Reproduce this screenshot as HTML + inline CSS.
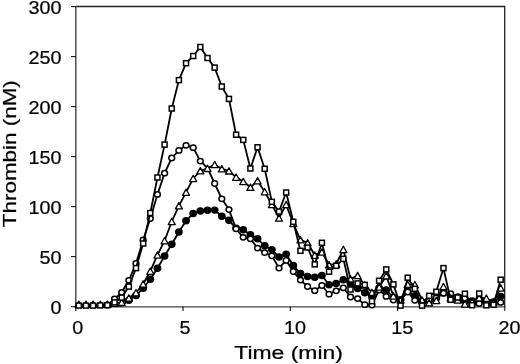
<!DOCTYPE html>
<html><head><meta charset="utf-8"><style>html,body{margin:0;padding:0;background:#fff;width:520px;height:364px;overflow:hidden}svg{display:block;filter:grayscale(1)}</style></head>
<body>
<svg width="520" height="364" viewBox="0 0 520 364">
<rect width="520" height="364" fill="#fff"/>
<path d="M75.8,6.5H504.7V306.9" fill="none" stroke="#222" stroke-width="1.3" stroke-linejoin="miter"/>
<line x1="75.8" y1="6" x2="75.8" y2="307.5" stroke="#444" stroke-width="1.4"/>
<line x1="75.2" y1="306.9" x2="505.3" y2="306.9" stroke="#444" stroke-width="1.4"/>
<line x1="71" y1="6.6" x2="76" y2="6.6" stroke="#111" stroke-width="1.1"/>
<line x1="71" y1="56.6" x2="76" y2="56.6" stroke="#111" stroke-width="1.1"/>
<line x1="71" y1="106.6" x2="76" y2="106.6" stroke="#111" stroke-width="1.1"/>
<line x1="71" y1="156.6" x2="76" y2="156.6" stroke="#111" stroke-width="1.1"/>
<line x1="71" y1="206.6" x2="76" y2="206.6" stroke="#111" stroke-width="1.1"/>
<line x1="71" y1="256.6" x2="76" y2="256.6" stroke="#111" stroke-width="1.1"/>
<line x1="71" y1="306.7" x2="76" y2="306.7" stroke="#111" stroke-width="1.1"/>
<line x1="75.8" y1="306.5" x2="75.8" y2="311" stroke="#111" stroke-width="1.1"/>
<line x1="183.05" y1="306.5" x2="183.05" y2="311" stroke="#111" stroke-width="1.1"/>
<line x1="290.3" y1="306.5" x2="290.3" y2="311" stroke="#111" stroke-width="1.1"/>
<line x1="397.55" y1="306.5" x2="397.55" y2="311" stroke="#111" stroke-width="1.1"/>
<line x1="504.8" y1="306.5" x2="504.8" y2="311" stroke="#111" stroke-width="1.1"/>
<polyline points="78.80,305.60 85.95,305.60 93.10,305.60 100.25,305.60 107.40,305.60 114.55,305.60 121.70,305.60 128.85,300.30 136.00,295.50 143.15,288.30 150.30,279.30 157.45,268.20 164.60,256.00 171.75,244.20 178.90,232.00 186.05,220.80 193.20,213.50 200.35,211.00 207.50,210.20 214.65,210.10 221.80,216.20 228.95,220.30 236.10,228.30 243.25,229.70 250.40,234.70 257.55,238.80 264.70,245.80 271.85,249.60 279.00,257.00 286.15,254.20 293.30,265.40 300.45,273.50 307.60,276.50 314.75,277.30 321.90,275.50 329.05,284.70 336.20,283.50 343.35,279.80 350.50,284.00 357.65,288.50 364.80,292.70 371.95,296.80 379.10,288.00 386.25,290.00 393.40,297.50 400.55,299.60 407.70,291.30 414.85,295.80 422.00,302.60 429.15,300.00 436.30,298.00 443.45,293.00 450.60,296.00 457.75,297.00 464.90,300.00 472.05,301.00 479.20,300.00 486.35,302.00 493.50,302.00 500.65,296.50" fill="none" stroke="#000" stroke-width="1.8" stroke-linejoin="round"/>
<g fill="#000" stroke="none"><ellipse cx="128.85" cy="300.30" rx="3.9" ry="3.7"/>
<ellipse cx="136.00" cy="295.50" rx="3.9" ry="3.7"/>
<ellipse cx="143.15" cy="288.30" rx="3.9" ry="3.7"/>
<ellipse cx="150.30" cy="279.30" rx="3.9" ry="3.7"/>
<ellipse cx="157.45" cy="268.20" rx="3.9" ry="3.7"/>
<ellipse cx="164.60" cy="256.00" rx="3.9" ry="3.7"/>
<ellipse cx="171.75" cy="244.20" rx="3.9" ry="3.7"/>
<ellipse cx="178.90" cy="232.00" rx="3.9" ry="3.7"/>
<ellipse cx="186.05" cy="220.80" rx="3.9" ry="3.7"/>
<ellipse cx="193.20" cy="213.50" rx="3.9" ry="3.7"/>
<ellipse cx="200.35" cy="211.00" rx="3.9" ry="3.7"/>
<ellipse cx="207.50" cy="210.20" rx="3.9" ry="3.7"/>
<ellipse cx="214.65" cy="210.10" rx="3.9" ry="3.7"/>
<ellipse cx="221.80" cy="216.20" rx="3.9" ry="3.7"/>
<ellipse cx="228.95" cy="220.30" rx="3.9" ry="3.7"/>
<ellipse cx="236.10" cy="228.30" rx="3.9" ry="3.7"/>
<ellipse cx="243.25" cy="229.70" rx="3.9" ry="3.7"/>
<ellipse cx="250.40" cy="234.70" rx="3.9" ry="3.7"/>
<ellipse cx="257.55" cy="238.80" rx="3.9" ry="3.7"/>
<ellipse cx="264.70" cy="245.80" rx="3.9" ry="3.7"/>
<ellipse cx="271.85" cy="249.60" rx="3.9" ry="3.7"/>
<ellipse cx="279.00" cy="257.00" rx="3.9" ry="3.7"/>
<ellipse cx="286.15" cy="254.20" rx="3.9" ry="3.7"/>
<ellipse cx="293.30" cy="265.40" rx="3.9" ry="3.7"/>
<ellipse cx="300.45" cy="273.50" rx="3.9" ry="3.7"/>
<ellipse cx="307.60" cy="276.50" rx="3.9" ry="3.7"/>
<ellipse cx="314.75" cy="277.30" rx="3.9" ry="3.7"/>
<ellipse cx="321.90" cy="275.50" rx="3.9" ry="3.7"/>
<ellipse cx="329.05" cy="284.70" rx="3.9" ry="3.7"/>
<ellipse cx="336.20" cy="283.50" rx="3.9" ry="3.7"/>
<ellipse cx="343.35" cy="279.80" rx="3.9" ry="3.7"/>
<ellipse cx="350.50" cy="284.00" rx="3.9" ry="3.7"/>
<ellipse cx="357.65" cy="288.50" rx="3.9" ry="3.7"/>
<ellipse cx="364.80" cy="292.70" rx="3.9" ry="3.7"/>
<ellipse cx="371.95" cy="296.80" rx="3.9" ry="3.7"/>
<ellipse cx="379.10" cy="288.00" rx="3.9" ry="3.7"/>
<ellipse cx="386.25" cy="290.00" rx="3.9" ry="3.7"/>
<ellipse cx="393.40" cy="297.50" rx="3.9" ry="3.7"/>
<ellipse cx="400.55" cy="299.60" rx="3.9" ry="3.7"/>
<ellipse cx="407.70" cy="291.30" rx="3.9" ry="3.7"/>
<ellipse cx="414.85" cy="295.80" rx="3.9" ry="3.7"/>
<ellipse cx="422.00" cy="302.60" rx="3.9" ry="3.7"/>
<ellipse cx="429.15" cy="300.00" rx="3.9" ry="3.7"/>
<ellipse cx="436.30" cy="298.00" rx="3.9" ry="3.7"/>
<ellipse cx="443.45" cy="293.00" rx="3.9" ry="3.7"/>
<ellipse cx="450.60" cy="296.00" rx="3.9" ry="3.7"/>
<ellipse cx="457.75" cy="297.00" rx="3.9" ry="3.7"/>
<ellipse cx="464.90" cy="300.00" rx="3.9" ry="3.7"/>
<ellipse cx="472.05" cy="301.00" rx="3.9" ry="3.7"/>
<ellipse cx="479.20" cy="300.00" rx="3.9" ry="3.7"/>
<ellipse cx="486.35" cy="302.00" rx="3.9" ry="3.7"/>
<ellipse cx="493.50" cy="302.00" rx="3.9" ry="3.7"/>
<ellipse cx="500.65" cy="296.50" rx="3.9" ry="3.7"/></g>
<polyline points="78.80,305.60 85.95,305.60 93.10,305.60 100.25,305.60 107.40,305.00 114.55,299.00 121.70,292.30 128.85,280.30 136.00,263.50 143.15,240.00 150.30,218.50 157.45,194.40 164.60,173.20 171.75,158.00 178.90,150.40 186.05,145.30 193.20,147.70 200.35,161.10 207.50,168.00 214.65,183.50 221.80,198.80 228.95,209.60 236.10,228.80 243.25,237.30 250.40,238.80 257.55,248.10 264.70,252.70 271.85,255.80 279.00,268.10 286.15,260.40 293.30,271.50 300.45,280.10 307.60,286.50 314.75,290.70 321.90,285.50 329.05,294.20 336.20,290.80 343.35,287.80 350.50,297.00 357.65,298.60 364.80,304.70 371.95,305.00 379.10,290.00 386.25,296.40 393.40,300.00 400.55,300.00 407.70,292.00 414.85,300.30 422.00,302.00 429.15,300.00 436.30,298.00 443.45,293.20 450.60,293.70 457.75,298.00 464.90,298.00 472.05,302.00 479.20,303.60 486.35,302.00 493.50,303.00 500.65,302.40" fill="none" stroke="#000" stroke-width="1.8" stroke-linejoin="round"/>
<g fill="#fff" stroke="#000" stroke-width="1.5" stroke-linejoin="miter"><ellipse cx="107.40" cy="305.00" rx="2.9" ry="2.65"/>
<ellipse cx="114.55" cy="299.00" rx="2.9" ry="2.65"/>
<ellipse cx="121.70" cy="292.30" rx="2.9" ry="2.65"/>
<ellipse cx="128.85" cy="280.30" rx="2.9" ry="2.65"/>
<ellipse cx="136.00" cy="263.50" rx="2.9" ry="2.65"/>
<ellipse cx="143.15" cy="240.00" rx="2.9" ry="2.65"/>
<ellipse cx="150.30" cy="218.50" rx="2.9" ry="2.65"/>
<ellipse cx="157.45" cy="194.40" rx="2.9" ry="2.65"/>
<ellipse cx="164.60" cy="173.20" rx="2.9" ry="2.65"/>
<ellipse cx="171.75" cy="158.00" rx="2.9" ry="2.65"/>
<ellipse cx="178.90" cy="150.40" rx="2.9" ry="2.65"/>
<ellipse cx="186.05" cy="145.30" rx="2.9" ry="2.65"/>
<ellipse cx="193.20" cy="147.70" rx="2.9" ry="2.65"/>
<ellipse cx="200.35" cy="161.10" rx="2.9" ry="2.65"/>
<ellipse cx="214.65" cy="183.50" rx="2.9" ry="2.65"/>
<ellipse cx="221.80" cy="198.80" rx="2.9" ry="2.65"/>
<ellipse cx="228.95" cy="209.60" rx="2.9" ry="2.65"/>
<ellipse cx="236.10" cy="228.80" rx="2.9" ry="2.65"/>
<ellipse cx="243.25" cy="237.30" rx="2.9" ry="2.65"/>
<ellipse cx="250.40" cy="238.80" rx="2.9" ry="2.65"/>
<ellipse cx="257.55" cy="248.10" rx="2.9" ry="2.65"/>
<ellipse cx="264.70" cy="252.70" rx="2.9" ry="2.65"/>
<ellipse cx="271.85" cy="255.80" rx="2.9" ry="2.65"/>
<ellipse cx="279.00" cy="268.10" rx="2.9" ry="2.65"/>
<ellipse cx="286.15" cy="260.40" rx="2.9" ry="2.65"/>
<ellipse cx="293.30" cy="271.50" rx="2.9" ry="2.65"/>
<ellipse cx="300.45" cy="280.10" rx="2.9" ry="2.65"/>
<ellipse cx="307.60" cy="286.50" rx="2.9" ry="2.65"/>
<ellipse cx="314.75" cy="290.70" rx="2.9" ry="2.65"/>
<ellipse cx="321.90" cy="285.50" rx="2.9" ry="2.65"/>
<ellipse cx="329.05" cy="294.20" rx="2.9" ry="2.65"/>
<ellipse cx="336.20" cy="290.80" rx="2.9" ry="2.65"/>
<ellipse cx="343.35" cy="287.80" rx="2.9" ry="2.65"/>
<ellipse cx="350.50" cy="297.00" rx="2.9" ry="2.65"/>
<ellipse cx="357.65" cy="298.60" rx="2.9" ry="2.65"/>
<ellipse cx="364.80" cy="304.70" rx="2.9" ry="2.65"/>
<ellipse cx="371.95" cy="305.00" rx="2.9" ry="2.65"/>
<ellipse cx="379.10" cy="290.00" rx="2.9" ry="2.65"/>
<ellipse cx="386.25" cy="296.40" rx="2.9" ry="2.65"/>
<ellipse cx="393.40" cy="300.00" rx="2.9" ry="2.65"/>
<ellipse cx="400.55" cy="300.00" rx="2.9" ry="2.65"/>
<ellipse cx="407.70" cy="292.00" rx="2.9" ry="2.65"/>
<ellipse cx="414.85" cy="300.30" rx="2.9" ry="2.65"/>
<ellipse cx="422.00" cy="302.00" rx="2.9" ry="2.65"/>
<ellipse cx="429.15" cy="300.00" rx="2.9" ry="2.65"/>
<ellipse cx="436.30" cy="298.00" rx="2.9" ry="2.65"/>
<ellipse cx="443.45" cy="293.20" rx="2.9" ry="2.65"/>
<ellipse cx="450.60" cy="293.70" rx="2.9" ry="2.65"/>
<ellipse cx="457.75" cy="298.00" rx="2.9" ry="2.65"/>
<ellipse cx="464.90" cy="298.00" rx="2.9" ry="2.65"/>
<ellipse cx="472.05" cy="302.00" rx="2.9" ry="2.65"/>
<ellipse cx="479.20" cy="303.60" rx="2.9" ry="2.65"/>
<ellipse cx="486.35" cy="302.00" rx="2.9" ry="2.65"/>
<ellipse cx="493.50" cy="303.00" rx="2.9" ry="2.65"/>
<ellipse cx="500.65" cy="302.40" rx="2.9" ry="2.65"/></g>
<polyline points="78.80,304.30 85.95,304.30 93.10,304.30 100.25,304.30 107.40,304.30 114.55,303.20 121.70,302.40 128.85,298.00 136.00,292.70 143.15,284.00 150.30,271.20 157.45,255.10 164.60,240.70 171.75,221.50 178.90,205.80 186.05,192.30 193.20,178.50 200.35,170.80 207.50,168.40 214.65,164.60 221.80,168.80 228.95,170.90 236.10,177.20 243.25,181.50 250.40,187.30 257.55,180.80 264.70,191.70 271.85,204.60 279.00,218.10 286.15,204.60 293.30,223.50 300.45,239.80 307.60,242.80 314.75,255.20 321.90,252.10 329.05,264.80 336.20,264.00 343.35,249.50 350.50,278.90 357.65,275.60 364.80,285.00 371.95,292.40 379.10,287.00 386.25,275.90 393.40,296.00 400.55,300.00 407.70,284.40 414.85,284.70 422.00,300.00 429.15,302.80 436.30,300.50 443.45,286.60 450.60,298.00 457.75,300.00 464.90,304.00 472.05,302.00 479.20,297.80 486.35,298.20 493.50,302.00 500.65,288.00" fill="none" stroke="#000" stroke-width="1.8" stroke-linejoin="round"/>
<g fill="#fff" stroke="#000" stroke-width="1.3" stroke-linejoin="round"><path d="M78.80,301.10L82.30,307.40L75.30,307.40Z"/>
<path d="M85.95,301.10L89.45,307.40L82.45,307.40Z"/>
<path d="M93.10,301.10L96.60,307.40L89.60,307.40Z"/>
<path d="M100.25,301.10L103.75,307.40L96.75,307.40Z"/>
<path d="M107.40,301.10L110.90,307.40L103.90,307.40Z"/>
<path d="M114.55,300.00L118.05,306.30L111.05,306.30Z"/>
<path d="M121.70,299.20L125.20,305.50L118.20,305.50Z"/>
<path d="M128.85,294.80L132.35,301.10L125.35,301.10Z"/>
<path d="M136.00,289.50L139.50,295.80L132.50,295.80Z"/>
<path d="M143.15,280.80L146.65,287.10L139.65,287.10Z"/>
<path d="M150.30,268.00L153.80,274.30L146.80,274.30Z"/>
<path d="M157.45,251.90L160.95,258.20L153.95,258.20Z"/>
<path d="M164.60,237.50L168.10,243.80L161.10,243.80Z"/>
<path d="M171.75,218.30L175.25,224.60L168.25,224.60Z"/>
<path d="M178.90,202.60L182.40,208.90L175.40,208.90Z"/>
<path d="M186.05,189.10L189.55,195.40L182.55,195.40Z"/>
<path d="M193.20,175.30L196.70,181.60L189.70,181.60Z"/>
<path d="M200.35,167.60L203.85,173.90L196.85,173.90Z"/>
<path d="M207.50,165.20L211.00,171.50L204.00,171.50Z"/>
<path d="M214.65,161.40L218.15,167.70L211.15,167.70Z"/>
<path d="M221.80,165.60L225.30,171.90L218.30,171.90Z"/>
<path d="M228.95,167.70L232.45,174.00L225.45,174.00Z"/>
<path d="M236.10,174.00L239.60,180.30L232.60,180.30Z"/>
<path d="M243.25,178.30L246.75,184.60L239.75,184.60Z"/>
<path d="M250.40,184.10L253.90,190.40L246.90,190.40Z"/>
<path d="M257.55,177.60L261.05,183.90L254.05,183.90Z"/>
<path d="M264.70,188.50L268.20,194.80L261.20,194.80Z"/>
<path d="M271.85,201.40L275.35,207.70L268.35,207.70Z"/>
<path d="M279.00,214.90L282.50,221.20L275.50,221.20Z"/>
<path d="M286.15,201.40L289.65,207.70L282.65,207.70Z"/>
<path d="M293.30,220.30L296.80,226.60L289.80,226.60Z"/>
<path d="M300.45,236.60L303.95,242.90L296.95,242.90Z"/>
<path d="M307.60,239.60L311.10,245.90L304.10,245.90Z"/>
<path d="M314.75,252.00L318.25,258.30L311.25,258.30Z"/>
<path d="M321.90,248.90L325.40,255.20L318.40,255.20Z"/>
<path d="M329.05,261.60L332.55,267.90L325.55,267.90Z"/>
<path d="M336.20,260.80L339.70,267.10L332.70,267.10Z"/>
<path d="M343.35,246.30L346.85,252.60L339.85,252.60Z"/>
<path d="M350.50,275.70L354.00,282.00L347.00,282.00Z"/>
<path d="M357.65,272.40L361.15,278.70L354.15,278.70Z"/>
<path d="M364.80,281.80L368.30,288.10L361.30,288.10Z"/>
<path d="M371.95,289.20L375.45,295.50L368.45,295.50Z"/>
<path d="M379.10,283.80L382.60,290.10L375.60,290.10Z"/>
<path d="M386.25,272.70L389.75,279.00L382.75,279.00Z"/>
<path d="M393.40,292.80L396.90,299.10L389.90,299.10Z"/>
<path d="M400.55,296.80L404.05,303.10L397.05,303.10Z"/>
<path d="M407.70,281.20L411.20,287.50L404.20,287.50Z"/>
<path d="M414.85,281.50L418.35,287.80L411.35,287.80Z"/>
<path d="M422.00,296.80L425.50,303.10L418.50,303.10Z"/>
<path d="M429.15,299.60L432.65,305.90L425.65,305.90Z"/>
<path d="M436.30,297.30L439.80,303.60L432.80,303.60Z"/>
<path d="M443.45,283.40L446.95,289.70L439.95,289.70Z"/>
<path d="M450.60,294.80L454.10,301.10L447.10,301.10Z"/>
<path d="M457.75,296.80L461.25,303.10L454.25,303.10Z"/>
<path d="M464.90,300.80L468.40,307.10L461.40,307.10Z"/>
<path d="M472.05,298.80L475.55,305.10L468.55,305.10Z"/>
<path d="M479.20,294.60L482.70,300.90L475.70,300.90Z"/>
<path d="M486.35,295.00L489.85,301.30L482.85,301.30Z"/>
<path d="M493.50,298.80L497.00,305.10L490.00,305.10Z"/>
<path d="M500.65,284.80L504.15,291.10L497.15,291.10Z"/></g>
<polyline points="78.80,305.60 85.95,305.60 93.10,305.60 100.25,305.40 107.40,305.20 114.55,302.40 121.70,297.60 128.85,286.60 136.00,268.10 143.15,243.50 150.30,213.00 157.45,177.50 164.60,144.60 171.75,108.50 178.90,80.10 186.05,63.20 193.20,56.00 200.35,47.00 207.50,58.00 214.65,67.60 221.80,86.50 228.95,98.90 236.10,134.70 243.25,139.90 250.40,168.50 257.55,147.30 264.70,168.80 271.85,201.80 279.00,211.50 286.15,192.50 293.30,221.80 300.45,250.80 307.60,247.50 314.75,264.40 321.90,242.80 329.05,271.70 336.20,265.80 343.35,258.80 350.50,289.50 357.65,283.40 364.80,284.90 371.95,301.20 379.10,280.80 386.25,269.40 393.40,284.40 400.55,305.60 407.70,277.70 414.85,288.80 422.00,305.60 429.15,295.80 436.30,291.80 443.45,268.10 450.60,299.80 457.75,297.50 464.90,293.70 472.05,305.20 479.20,293.50 486.35,305.30 493.50,304.70 500.65,279.70" fill="none" stroke="#000" stroke-width="1.8" stroke-linejoin="round"/>
<g fill="#fff" stroke="#000" stroke-width="1.5" stroke-linejoin="miter"><rect x="76.30" y="303.10" width="5" height="5"/>
<rect x="83.45" y="303.10" width="5" height="5"/>
<rect x="90.60" y="303.10" width="5" height="5"/>
<rect x="97.75" y="302.90" width="5" height="5"/>
<rect x="104.90" y="302.70" width="5" height="5"/>
<rect x="112.05" y="299.90" width="5" height="5"/>
<rect x="119.20" y="295.10" width="5" height="5"/>
<rect x="126.35" y="284.10" width="5" height="5"/>
<rect x="133.50" y="265.60" width="5" height="5"/>
<rect x="140.65" y="241.00" width="5" height="5"/>
<rect x="147.80" y="210.50" width="5" height="5"/>
<rect x="154.95" y="175.00" width="5" height="5"/>
<rect x="162.10" y="142.10" width="5" height="5"/>
<rect x="169.25" y="106.00" width="5" height="5"/>
<rect x="176.40" y="77.60" width="5" height="5"/>
<rect x="183.55" y="60.70" width="5" height="5"/>
<rect x="190.70" y="53.50" width="5" height="5"/>
<rect x="197.85" y="44.50" width="5" height="5"/>
<rect x="205.00" y="55.50" width="5" height="5"/>
<rect x="212.15" y="65.10" width="5" height="5"/>
<rect x="219.30" y="84.00" width="5" height="5"/>
<rect x="226.45" y="96.40" width="5" height="5"/>
<rect x="233.60" y="132.20" width="5" height="5"/>
<rect x="240.75" y="137.40" width="5" height="5"/>
<rect x="247.90" y="166.00" width="5" height="5"/>
<rect x="255.05" y="144.80" width="5" height="5"/>
<rect x="262.20" y="166.30" width="5" height="5"/>
<rect x="269.35" y="199.30" width="5" height="5"/>
<rect x="276.50" y="209.00" width="5" height="5"/>
<rect x="283.65" y="190.00" width="5" height="5"/>
<rect x="290.80" y="219.30" width="5" height="5"/>
<rect x="297.95" y="248.30" width="5" height="5"/>
<rect x="305.10" y="245.00" width="5" height="5"/>
<rect x="312.25" y="261.90" width="5" height="5"/>
<rect x="319.40" y="240.30" width="5" height="5"/>
<rect x="326.55" y="269.20" width="5" height="5"/>
<rect x="333.70" y="263.30" width="5" height="5"/>
<rect x="340.85" y="256.30" width="5" height="5"/>
<rect x="348.00" y="287.00" width="5" height="5"/>
<rect x="355.15" y="280.90" width="5" height="5"/>
<rect x="362.30" y="282.40" width="5" height="5"/>
<rect x="369.45" y="298.70" width="5" height="5"/>
<rect x="376.60" y="278.30" width="5" height="5"/>
<rect x="383.75" y="266.90" width="5" height="5"/>
<rect x="390.90" y="281.90" width="5" height="5"/>
<rect x="398.05" y="303.10" width="5" height="5"/>
<rect x="405.20" y="275.20" width="5" height="5"/>
<rect x="412.35" y="286.30" width="5" height="5"/>
<rect x="419.50" y="303.10" width="5" height="5"/>
<rect x="426.65" y="293.30" width="5" height="5"/>
<rect x="433.80" y="289.30" width="5" height="5"/>
<rect x="440.95" y="265.60" width="5" height="5"/>
<rect x="448.10" y="297.30" width="5" height="5"/>
<rect x="455.25" y="295.00" width="5" height="5"/>
<rect x="462.40" y="291.20" width="5" height="5"/>
<rect x="469.55" y="302.70" width="5" height="5"/>
<rect x="476.70" y="291.00" width="5" height="5"/>
<rect x="483.85" y="302.80" width="5" height="5"/>
<rect x="491.00" y="302.20" width="5" height="5"/>
<rect x="498.15" y="277.20" width="5" height="5"/></g>
<g font-family='"Liberation Sans", sans-serif' font-size="17.5" fill="#000" stroke="#000" stroke-width="0.22">
<text x="61.5" y="13.9" text-anchor="end" transform="translate(61.5 0) scale(1.13 1) translate(-61.5 0)">300</text>
<text x="61.5" y="63.9" text-anchor="end" transform="translate(61.5 0) scale(1.13 1) translate(-61.5 0)">250</text>
<text x="61.5" y="113.9" text-anchor="end" transform="translate(61.5 0) scale(1.13 1) translate(-61.5 0)">200</text>
<text x="61.5" y="163.9" text-anchor="end" transform="translate(61.5 0) scale(1.13 1) translate(-61.5 0)">150</text>
<text x="61.5" y="213.9" text-anchor="end" transform="translate(61.5 0) scale(1.13 1) translate(-61.5 0)">100</text>
<text x="61.5" y="263.9" text-anchor="end" transform="translate(61.5 0) scale(1.13 1) translate(-61.5 0)">50</text>
<text x="61.5" y="314.0" text-anchor="end" transform="translate(61.5 0) scale(1.13 1) translate(-61.5 0)">0</text>
<text x="77.8" y="333.6" text-anchor="middle" transform="translate(77.8 0) scale(1.13 1) translate(-77.8 0)">0</text>
<text x="185.1" y="333.6" text-anchor="middle" transform="translate(185.1 0) scale(1.13 1) translate(-185.1 0)">5</text>
<text x="294.9" y="333.6" text-anchor="middle" transform="translate(294.9 0) scale(1.13 1) translate(-294.9 0)">10</text>
<text x="402.2" y="333.6" text-anchor="middle" transform="translate(402.2 0) scale(1.13 1) translate(-402.2 0)">15</text>
<text x="509.4" y="333.6" text-anchor="middle" transform="translate(509.4 0) scale(1.13 1) translate(-509.4 0)">20</text>
<text x="288.6" y="359.5" text-anchor="middle" transform="translate(288.6 0) scale(1.31 1) translate(-288.6 0)">Time (min)</text>
<text x="0" y="0" text-anchor="middle" transform="translate(15.6 153.7) rotate(-90) scale(1.283 1)">Thrombin (nM)</text>
</g>
</svg>
</body></html>
